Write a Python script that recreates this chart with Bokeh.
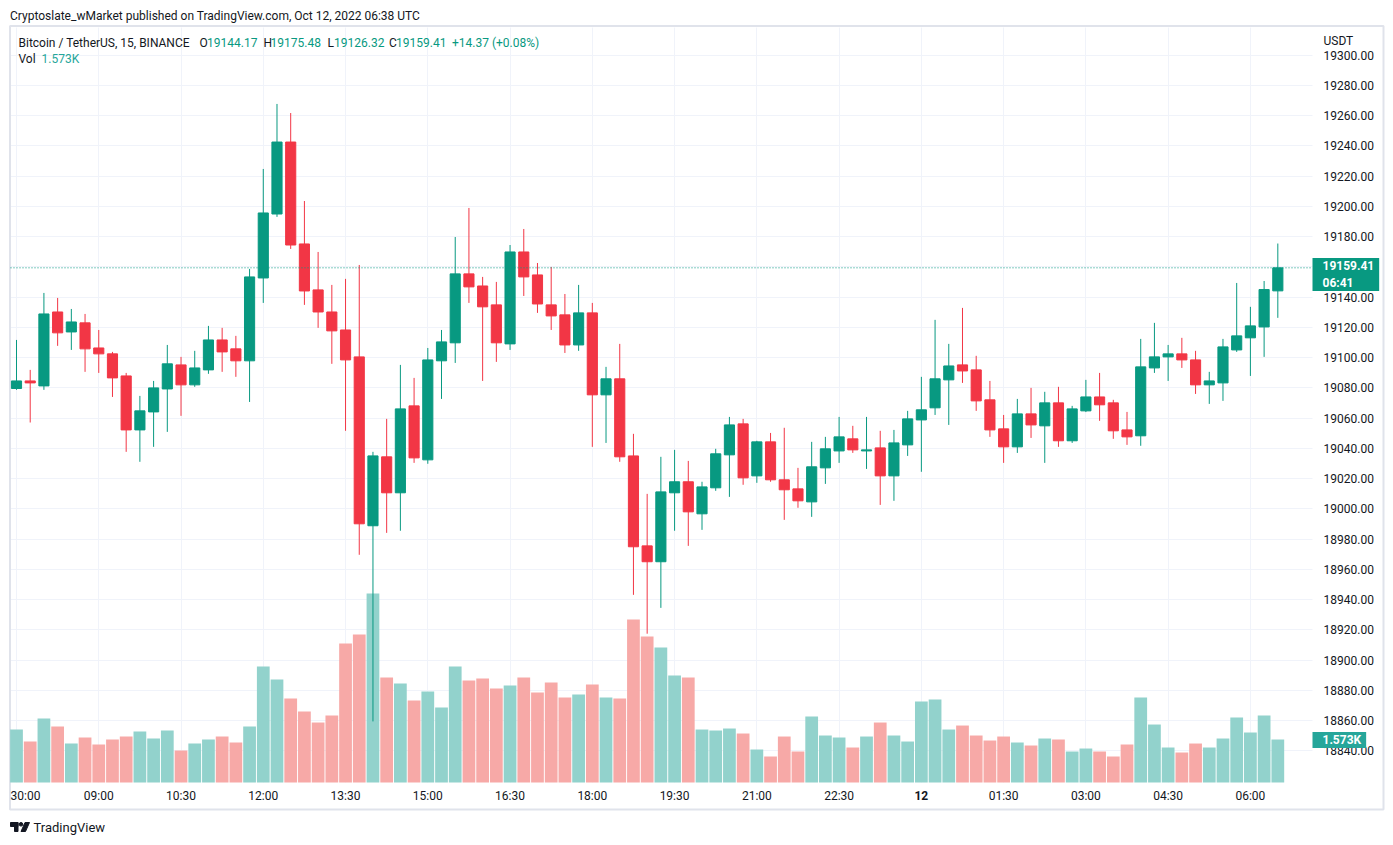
from bokeh.plotting import figure
from bokeh.models import (ColumnDataSource, Range1d, LinearAxis, FixedTicker,
                          NumeralTickFormatter, Label, Grid)
from bokeh.embed import file_html
from bokeh.resources import INLINE

# ---------------- data (BTC/USDT 15m, BINANCE) ----------------
opens = [19079.6, 19084.6, 19081.3, 19130.2, 19117.0, 19123.0, 19106.4, 19102.5, 19087.9, 19052.2,
         19064.1, 19079.3, 19095.2, 19082.0, 19091.9, 19111.7, 19105.8, 19097.9, 19152.7, 19195.0,
         19242.6, 19175.2, 19144.8, 19130.2, 19118.3, 19100.5, 18988.8, 19034.4, 19010.6, 19068.1,
         19032.4, 19097.9, 19109.8, 19155.4, 19147.4, 19134.9, 19109.1, 19169.9, 19154.7, 19134.9,
         19128.3, 19108.4, 19129.6, 19075.4, 19086.0, 19035.0, 18975.5, 18965.0, 19010.6, 19017.9,
         18996.7, 19013.9, 19035.7, 19056.2, 19021.8, 19044.3, 19019.2, 19013.2, 19004.6, 19027.1,
         19038.3, 19046.3, 19038.3, 19040.3, 19021.8, 19042.3, 19058.8, 19066.8, 19085.3, 19095.2,
         19091.9, 19072.1, 19052.9, 19041.0, 19062.8, 19054.9, 19070.1, 19045.0, 19064.8, 19074.0,
         19070.1, 19052.2, 19048.3, 19093.2, 19100.5, 19102.5, 19098.5, 19082.0, 19083.3, 19105.1,
         19113.1, 19120.3, 19144.17]
highs = [19111.7, 19091.9, 19142.8, 19139.5, 19132.2, 19128.9, 19118.3, 19103.8, 19089.9, 19074.7,
         19084.6, 19108.4, 19100.5, 19104.5, 19121.0, 19119.7, 19114.4, 19158.7, 19224.8, 19267.8,
         19261.8, 19203.6, 19169.9, 19148.1, 19152.1, 19161.3, 19037.7, 19059.5, 19095.2, 19086.6,
         19106.4, 19118.3, 19179.8, 19199.0, 19153.4, 19150.1, 19174.5, 19185.1, 19162.6, 19160.0,
         19142.1, 19148.1, 19136.2, 19093.9, 19109.1, 19049.6, 19009.9, 19034.4, 19039.0, 19031.7,
         19017.9, 19039.7, 19060.8, 19059.5, 19045.0, 19050.2, 19053.6, 19027.1, 19044.3, 19047.6,
         19060.8, 19054.9, 19060.8, 19051.6, 19052.2, 19064.8, 19087.3, 19125.0, 19109.1, 19132.9,
         19101.2, 19084.6, 19062.1, 19072.7, 19080.0, 19077.4, 19080.7, 19068.1, 19085.3, 19089.9,
         19072.1, 19064.1, 19112.4, 19123.0, 19108.4, 19113.1, 19104.5, 19090.6, 19112.4, 19149.4,
         19133.6, 19150.7, 19175.48]
lows = [19078.7, 19057.1, 19078.7, 19107.8, 19105.1, 19090.6, 19089.9, 19074.0, 19037.7, 19031.1,
        19041.0, 19050.9, 19061.5, 19080.7, 19089.3, 19090.6, 19087.3, 19070.7, 19136.2, 19193.1,
        19171.9, 19134.9, 19119.7, 19095.9, 19051.6, 18969.6, 18859.4, 18984.1, 18985.5, 19030.4,
        19029.8, 19072.7, 19096.5, 19136.2, 19084.6, 19097.2, 19105.1, 19140.8, 19129.6, 19118.3,
        19103.1, 19104.5, 19041.0, 19043.6, 19031.1, 18943.1, 18917.4, 18934.5, 18985.5, 18975.5,
        18986.1, 19011.9, 19007.9, 19015.9, 19017.2, 19017.9, 18992.7, 19000.7, 18994.7, 19016.5,
        19030.4, 19037.0, 19026.4, 19002.6, 19005.3, 19035.0, 19024.5, 19062.1, 19055.5, 19083.3,
        19064.8, 19047.6, 19030.4, 19037.0, 19046.9, 19030.4, 19041.0, 19043.6, 19064.0, 19058.2,
        19046.3, 19042.3, 19041.7, 19089.9, 19084.6, 19093.2, 19076.0, 19069.4, 19071.4, 19103.8,
        19087.9, 19100.5, 19126.32]
closes = [19084.6, 19083.3, 19128.9, 19116.4, 19123.6, 19105.8, 19102.5, 19086.6, 19052.2, 19064.8,
          19080.0, 19095.9, 19082.0, 19093.2, 19111.7, 19103.8, 19097.9, 19153.4, 19195.7, 19242.6,
          19174.5, 19144.1, 19130.2, 19117.7, 19098.5, 18990.1, 19035.0, 19010.6, 19066.1, 19033.7,
          19098.5, 19110.4, 19155.4, 19146.8, 19133.6, 19109.8, 19169.9, 19153.4, 19135.5, 19127.6,
          19108.4, 19129.6, 19075.4, 19086.0, 19034.4, 18974.9, 18965.0, 19011.2, 19017.9, 18998.0,
          19014.5, 19036.4, 19055.5, 19020.5, 19044.3, 19019.2, 19012.6, 19005.3, 19027.8, 19039.7,
          19047.6, 19039.0, 19039.0, 19021.8, 19043.6, 19059.5, 19065.5, 19086.0, 19094.5, 19091.2,
          19071.4, 19052.2, 19041.0, 19062.8, 19055.5, 19070.1, 19045.0, 19066.1, 19074.0, 19068.8,
          19051.6, 19047.6, 19093.9, 19100.5, 19102.5, 19098.5, 19082.0, 19084.6, 19107.1, 19114.4,
          19121.0, 19145.04, 19159.41]
volumes = [1938, 1499, 2341, 2048, 1426, 1646, 1390, 1573, 1682, 1865,
           1609, 1902, 1170, 1426, 1573, 1682, 1463, 2048, 4242, 3767,
           3072, 2596, 2194, 2450, 5083, 5412, 6912, 3840, 3620, 2999,
           3328, 2743, 4242, 3730, 3803, 3438, 3547, 3840, 3291, 3657,
           3108, 3218, 3584, 3108, 3072, 5961, 5339, 4937, 3913, 3840,
           1938, 1902, 1975, 1792, 1207, 951, 1682, 1134, 2414, 1719,
           1646, 1280, 1682, 2194, 1719, 1499, 2962, 3035, 1938, 2084,
           1719, 1536, 1682, 1463, 1353, 1609, 1573, 1134, 1243, 1134,
           951, 1390, 3108, 2121, 1280, 1097, 1426, 1280, 1609, 2377,
           1829, 2450, 1573]

# time axis: candle index -> label (index 0 = 07:30, Oct 11)
time_ticks = [6, 12, 18, 24, 30, 36, 42, 48, 54, 60, 72, 78, 84, 90]
time_labels = ["09:00", "10:30", "12:00", "13:30", "15:00", "16:30", "18:00", "19:30",
               "21:00", "22:30", "01:30", "03:00", "04:30", "06:00"]
day_tick, day_label = 66, "12"
first_tick, first_label = 0, "30:00"
price_ticks = list(range(18840, 19301, 20))

header = "Cryptoslate_wMarket published on TradingView.com, Oct 12, 2022 06:38 UTC"
symbol = "Bitcoin / TetherUS, 15, BINANCE"
countdown = "06:41"
currency = "USDT"

# ---------------- styling ----------------
UP, DOWN = "#089981", "#F23645"
VUP, VDOWN = "#92D2CC", "#F7A9A7"
VOLTAG = "#26A69A"
DARK = "#131722"
GRID = "#F0F3FA"
BORDER = "#E0E3EB"
FONT = "Roboto"

n = len(opens)
idx = list(range(n))
is_up = [c >= o for o, c in zip(opens, closes)]
src = ColumnDataSource(dict(
    x=idx, o=opens, h=highs, l=lows, c=closes, v=volumes,
    top=[max(o, c) for o, c in zip(opens, closes)],
    bottom=[min(o, c) for o, c in zip(opens, closes)],
    color=[UP if u else DOWN for u in is_up],
    vcolor=[VUP if u else VDOWN for u in is_up],
))

# ---------------- page geometry (pixels) ----------------
W, H = 1392, 844
PANE_L, PANE_R, PANE_T, PANE_B = 10, 1312, 27, 782
STEP = 13.71          # px per candle
X_FIRST = 16.0        # page x of candle 0
PX_PER_USD = 1.5119
Y_REF, P_REF = 85.0, 19280.0
VOL_PX = 43.0         # px height of the last volume bar

def xd(X):
    return (X - X_FIRST) / STEP

def yd(Y):
    return P_REF + (Y_REF - Y) / PX_PER_USD

def vd(Y):
    return (PANE_B - Y) * volumes[-1] / VOL_PX

p = figure(width=W, height=H, output_backend="svg", toolbar_location=None,
           x_range=Range1d(xd(0), xd(W)), y_range=Range1d(yd(H), yd(0)),
           x_axis_location=None, y_axis_location=None,
           min_border=0, min_border_left=0, min_border_right=0,
           min_border_top=0, min_border_bottom=0)
p.center = [c for c in p.center if not isinstance(c, Grid)]
p.extra_y_ranges = {"vol": Range1d(vd(H), vd(0))}
p.outline_line_color = None
p.background_fill_color = "white"
p.border_fill_color = "white"

# grid
grid_x_ticks = [first_tick] + time_ticks[:10] + [day_tick] + time_ticks[10:]
try:
    gx = Grid(dimension=0, ticker=FixedTicker(ticks=grid_x_ticks), grid_line_color=GRID,
              cross_bounds=(yd(PANE_B), yd(PANE_T)))
    gy = Grid(dimension=1, ticker=FixedTicker(ticks=price_ticks), grid_line_color=GRID,
              cross_bounds=(xd(PANE_L), xd(PANE_R)))
    p.add_layout(gx)
    p.add_layout(gy)
except Exception:
    p.segment(x0=grid_x_ticks, x1=grid_x_ticks, y0=[yd(PANE_B)] * len(grid_x_ticks),
              y1=[yd(PANE_T)] * len(grid_x_ticks), line_color=GRID, line_width=1)
    p.segment(x0=[xd(PANE_L)] * len(price_ticks), x1=[xd(PANE_R)] * len(price_ticks),
              y0=price_ticks, y1=price_ticks, line_color=GRID, line_width=1)

# axes drawn at fixed locations at the pane edges
xaxis = LinearAxis(fixed_location=yd(PANE_B), ticker=FixedTicker(ticks=time_ticks),
                   major_label_overrides={t: l for t, l in zip(time_ticks, time_labels)},
                   axis_line_color=None, major_tick_line_color=None, minor_tick_line_color=None,
                   major_tick_in=0, major_tick_out=0, minor_tick_in=0, minor_tick_out=0,
                   major_label_text_font=FONT, major_label_text_font_size="12px",
                   major_label_text_color=DARK, major_label_standoff=6)
p.add_layout(xaxis, "below")
yaxis = LinearAxis(fixed_location=xd(PANE_R), ticker=FixedTicker(ticks=price_ticks),
                   formatter=NumeralTickFormatter(format="0.00"),
                   axis_line_color=None, major_tick_line_color=None, minor_tick_line_color=None,
                   major_tick_in=0, major_tick_out=0, minor_tick_in=0, minor_tick_out=0,
                   major_label_text_font=FONT, major_label_text_font_size="12px",
                   major_label_text_color=DARK, major_label_standoff=11)
p.add_layout(yaxis, "right")

# outer frame border of the chart widget
p.quad(left=[xd(9.5)], right=[xd(1383)], top=[yd(25.5)], bottom=[yd(809)],
       fill_color=None, line_color=BORDER, line_width=2)

# volume
p.vbar(x="x", width=0.93, top="v", bottom=0, y_range_name="vol",
       fill_color="vcolor", line_color=None, source=src)
# candles
p.segment(x0="x", y0="l", x1="x", y1="h", line_color="color", line_width=1, source=src)
p.vbar(x="x", width=0.74, top="top", bottom="bottom", fill_color="color",
       line_color="color", line_width=1, source=src)

# last price line (across the pane)
p.segment(x0=[xd(PANE_L)], x1=[xd(PANE_R)], y0=[closes[-1]], y1=[closes[-1]],
          line_color=UP, line_width=1, line_dash="1 2")


def lab(text, X, Y, color=DARK, size="12px", style="normal", align="left", **kw):
    p.add_layout(Label(x=xd(X), y=yd(Y), text=text, text_color=color, text_font=FONT,
                       text_font_size=size, text_font_style=style, text_align=align,
                       text_baseline="middle", **kw))


# header and legend
lab(header, 9.5, 15)
lab(symbol, 18, 42)
lab("O", 199, 42); lab(f"{opens[-1]:.2f}", 206.5, 42, UP)
lab("H", 263, 42); lab(f"{highs[-1]:.2f}", 270, 42, UP)
lab("L", 327, 42); lab(f"{lows[-1]:.2f}", 333.5, 42, UP)
lab("C", 388.5, 42); lab(f"{closes[-1]:.2f}", 395.5, 42, UP)
chg = closes[-1] - closes[-2]
lab(f"{chg:+.2f} ({chg / closes[-2] * 100:+.2f}%)", 451.5, 42, UP)
lab("Vol", 18, 58.5); lab(f"{volumes[-1] / 1000:.3f}K", 41, 58.5, VOLTAG)

lab(currency, 1323, 40)
lab(first_label, 10, 795)
lab(day_label, X_FIRST + day_tick * STEP, 795, style="bold", align="center")

# price & volume tags on the scale
lab(f"{closes[-1]:.2f}\n{countdown}", PANE_R, 274, "white", style="bold",
    background_fill_color=UP, padding=dict(left=10, right=5, top=1, bottom=1))
lab(f"{volumes[-1] / 1000:.3f}K", PANE_R, 739.5, "white", style="bold",
    background_fill_color=VOLTAG, padding=dict(left=10, right=5, top=1, bottom=1))

# footer: logo + name
p.quad(left=[xd(10)], right=[xd(17.5)], top=[yd(822)], bottom=[yd(826)], color=DARK)
p.quad(left=[xd(14)], right=[xd(17.5)], top=[yd(822)], bottom=[yd(831)], color=DARK)
p.scatter(x=[xd(20.5)], y=[yd(823.8)], size=3.6, color=DARK)
p.patch(x=[xd(24.5), xd(29), xd(25), xd(20.5)], y=[yd(822), yd(822), yd(831), yd(831)],
        color=DARK)
lab("TradingView", 33, 827, size="13px")

open("out.html", "w").write(file_html(p, INLINE))
